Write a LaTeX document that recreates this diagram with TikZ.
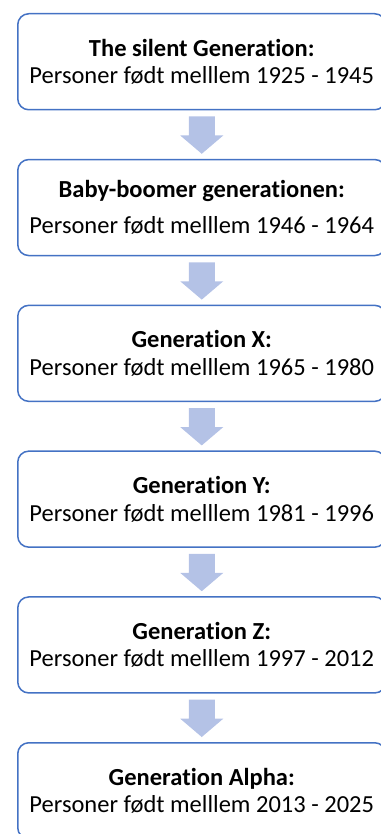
\documentclass[tikz,border=0pt]{standalone}
\usepackage{fontspec}
\setmainfont[Ligatures={NoCommon},RawFeature={-liga;-calt;-clig;-dlig}]{Carlito}
\usetikzlibrary{calc}
\definecolor{boxline}{RGB}{68,114,196}
\definecolor{arrowfill}{RGB}{180,194,230}
\newcommand{\nolig}{\kern0pt\relax}
\begin{document}
\begin{tikzpicture}[x=1pt,y=-1pt,
  genbox/.style={draw=boxline, line width=1.5pt, fill=white, rounded corners=11pt,
    minimum width=368pt, minimum height=96pt, anchor=north west, align=center,
    inner sep=0pt, font=\fontsize{24.5}{27.5}\selectfont},
  downarrow/.style={fill=arrowfill, draw=none}]
\useasboundingbox (0,0) rectangle (380,834);
\foreach \i/\t/\p in {1/{The silent Genera\nolig tion:}/{1925 - 1945},
                      3/{Genera\nolig tion X:}/{1965 - 1980},
                      4/{Genera\nolig tion Y:}/{1981 - 1996},
                      5/{Genera\nolig tion Z:}/{1997 - 2012},
                      6/{Genera\nolig tion Alpha:}/{2013 - 2025}}{
  \node[genbox] (b\i) at (17,{13+145.8*(\i-1)}) {\textbf{\t}\\Personer født melllem \p};
}
\node[genbox] (b2) at (17,158.8) {\textbf{Baby-boomer genera\nolig tionen:}\\[9pt]Personer født melllem 1946 - 1964};
\foreach \i [evaluate=\i as \j using int(\i+1)] in {1,...,5}{
  \fill[downarrow] ($(b\i.south)+(-13,6)$) -- ($(b\i.south)+(13,6)$) -- ($(b\i.south)+(13,25)$)
    -- ($(b\i.south)+(21.5,25)$) -- ($(b\j.north)+(0,-5)$) -- ($(b\i.south)+(-21.5,25)$)
    -- ($(b\i.south)+(-13,25)$) -- cycle;
}
\end{tikzpicture}
\end{document}
